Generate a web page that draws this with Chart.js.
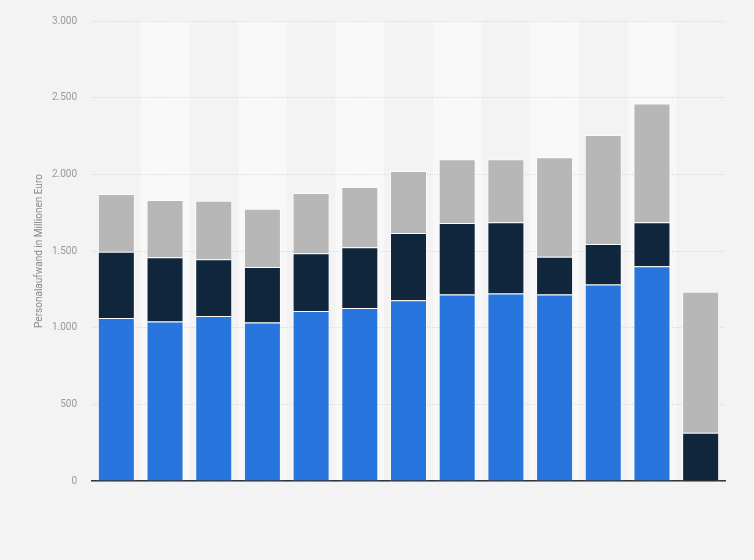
<!DOCTYPE html>
<html>
<head>
<meta charset="utf-8">
<script src="https://cdn.jsdelivr.net/npm/chart.js@4/dist/chart.umd.min.js"></script>
<style>
  html, body { margin: 0; padding: 0; background: #f3f3f3; }
  #chart { display: block; }
</style>
</head>
<body>
<canvas id="chart" width="754" height="560"></canvas>
<script>
// values (Mio. Euro)
const categories = ['1', '2', '3', '4', '5', '6', '7', '8', '9', '10', '11', '12', '13'];
const blueValues = [1063, 1041, 1076, 1034, 1108, 1128, 1178, 1217, 1223, 1217, 1282, 1401, 0];
const navyValues = [432, 419, 371, 361, 378, 397, 440, 465, 465, 246, 263, 287, 314];
const greyValues = [377, 372, 380, 380, 392, 392, 403, 416, 410, 648, 711, 774, 920];
const yTicks = [0, 500, 1000, 1500, 2000, 2500, 3000];

const formatDe = (v) => String(v).replace(/\B(?=(\d{3})+(?!\d))/g, '.');

// light stripes behind every second column
const columnBands = {
  id: 'columnBands',
  beforeDraw(chart) {
    const {ctx, chartArea, scales} = chart;
    const half = chartArea.width / categories.length / 2;
    ctx.save();
    ctx.fillStyle = '#f8f8f8';
    categories.forEach((c, i) => {
      if (i % 2 === 1) {
        const cx = scales.x.getPixelForValue(i);
        ctx.fillRect(cx - half, chartArea.top, half * 2, chartArea.bottom - chartArea.top);
      }
    });
    ctx.restore();
  }
};

const barStyle = {
  borderColor: 'rgba(255,255,255,0.55)',
  borderWidth: 1,
  barPercentage: 0.76,
  categoryPercentage: 1
};

new Chart(document.getElementById('chart'), {
  type: 'bar',
  data: {
    labels: categories,
    datasets: [
      {label: 'Segment 1', data: blueValues, backgroundColor: '#2876dd', ...barStyle},
      {label: 'Segment 2', data: navyValues, backgroundColor: '#0f263d', ...barStyle},
      {label: 'Segment 3', data: greyValues, backgroundColor: '#b7b7b7', ...barStyle}
    ]
  },
  options: {
    responsive: false,
    animation: false,
    layout: {padding: {top: 20, right: 29, bottom: 0, left: 0}},
    scales: {
      x: {
        stacked: true,
        grid: {display: false},
        ticks: {display: false},
        border: {display: true, color: '#333', width: 1.5},
        afterFit: (scale) => { scale.height = 79; }
      },
      y: {
        stacked: true,
        min: 0,
        max: 3000,
        afterBuildTicks: (scale) => { scale.ticks = yTicks.map(v => ({value: v})); },
        grid: {color: '#d4d4d4', drawTicks: false, lineWidth: 1},
        border: {display: false, dash: [1, 1.5]},
        ticks: {
          color: '#999',
          padding: 15,
          font: {family: 'Roboto, Arial, sans-serif', size: 10},
          callback: (v) => formatDe(v)
        },
        title: {
          display: true,
          text: 'Personalaufwand in Millionen Euro',
          color: '#888',
          font: {family: 'Roboto, Arial, sans-serif', size: 10},
          padding: {top: 33, bottom: 0}
        },
        afterFit: (scale) => { scale.width = 92; }
      }
    },
    plugins: {
      legend: {display: false},
      tooltip: {enabled: false}
    }
  },
  plugins: [columnBands]
});
</script>
</body>
</html>
